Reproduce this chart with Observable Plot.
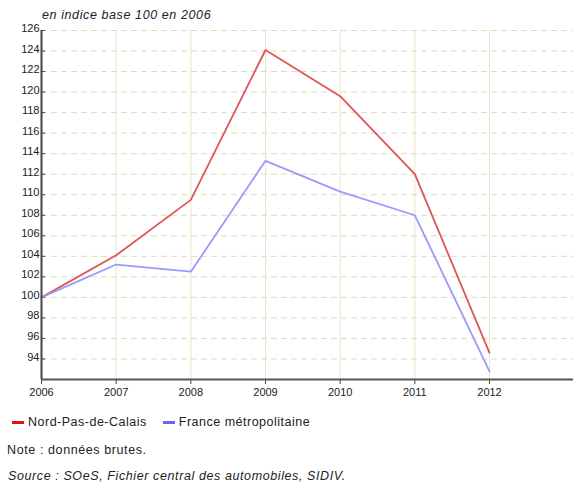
<!DOCTYPE html>
<html>
<head>
<meta charset="utf-8">
<script src="https://cdn.jsdelivr.net/npm/d3@7"></script>
<script src="https://cdn.jsdelivr.net/npm/@observablehq/plot@0.6"></script>
<style>
  body { margin: 0; background: #fff; font-family: "Liberation Sans", Arial, sans-serif; }
  #wrap { position: relative; width: 573px; height: 482px; }
  #title { position: absolute; left: 42px; top: 8px; font-size: 12.5px; letter-spacing: 0.6px; font-style: italic; color: #222; }
  #chart { position: absolute; left: 0; top: 0; }
  #legend { position: absolute; left: 12px; top: 415px; font-size: 12.5px; letter-spacing: 0.5px; color: #222; display: flex; }
  .item { display: flex; align-items: center; margin-right: 16px; }
  .sw { width: 12px; height: 3px; margin-right: 4px; }
  #note { position: absolute; left: 7px; top: 443px; font-size: 12.5px; letter-spacing: 0.6px; color: #222; }
  #source { position: absolute; left: 8px; top: 469px; font-size: 12.5px; letter-spacing: 0.6px; font-style: italic; color: #222; }
</style>
</head>
<body>
<div id="wrap">
  <div id="chart"></div>
  <div id="title">en indice base 100 en 2006</div>
  <div id="legend"></div>
  <div id="note">Note : données brutes.</div>
  <div id="source">Source : SOeS, Fichier central des automobiles, SIDIV.</div>
</div>
<script>
const years = [2006, 2007, 2008, 2009, 2010, 2011, 2012];
const seriesNames = ["Nord-Pas-de-Calais", "France métropolitaine"];
const nordPasDeCalais = [100, 104.1, 109.5, 124.1, 119.6, 112.0, 94.6];
const franceMetropolitaine = [100, 103.2, 102.5, 113.3, 110.3, 108.0, 92.8];
const yTicks = [94, 96, 98, 100, 102, 104, 106, 108, 110, 112, 114, 116, 118, 120, 122, 124, 126];
const colors = ["#e05555", "#9a9aff"];
const legendColors = ["#dd1111", "#6666ff"];

const data = [];
years.forEach((y, i) => {
  data.push({year: y, value: nordPasDeCalais[i], series: seriesNames[0]});
  data.push({year: y, value: franceMetropolitaine[i], series: seriesNames[1]});
});

const W = 573, H = 400, ML = 41, MT = 30, MB = 21, MR = 0;

const chart = Plot.plot({
  width: W, height: H,
  marginLeft: ML, marginRight: MR, marginTop: MT, marginBottom: MB,
  style: {fontFamily: '"Liberation Sans", Arial, sans-serif', fontSize: "11px", color: "#222", background: "#fff"},
  x: {domain: [2006, 2006 + (W - ML) / ((489 - 41) / 6)], label: null},
  y: {domain: [92, 126], label: null},
  color: {domain: seriesNames, range: colors},
  marks: [
    Plot.gridX(years.slice(1), {stroke: "#ebe6c8", strokeOpacity: 1}),
    Plot.gridY(yTicks, {stroke: "#dedcb4", strokeOpacity: 1, strokeDasharray: "6,4"}),
    Plot.ruleY(yTicks, {stroke: "#444", insetRight: W - ML - 4}),
    Plot.axisY(yTicks, {tickSize: 0, tickPadding: 2, dy: -2, fontSize: 11, fill: "#222"}),
    Plot.axisX(years, {tickSize: 5, tickPadding: 4, tickFormat: "d", fontSize: 11, fill: "#222", stroke: "#444"}),
    Plot.line(data, {x: "year", y: "value", stroke: "series", strokeWidth: 1.8}),
    Plot.ruleX([2006], {stroke: "#444", strokeWidth: 2}),
    Plot.ruleY([92], {stroke: "#555", strokeWidth: 2})
  ]
});
document.getElementById("chart").appendChild(chart);

const legend = document.getElementById("legend");
seriesNames.forEach((s, i) => {
  const it = document.createElement("div");
  it.className = "item";
  const sw = document.createElement("span");
  sw.className = "sw";
  sw.style.background = legendColors[i];
  it.appendChild(sw);
  const t = document.createElement("span");
  t.textContent = s;
  it.appendChild(t);
  legend.appendChild(it);
});
</script>
</body>
</html>
